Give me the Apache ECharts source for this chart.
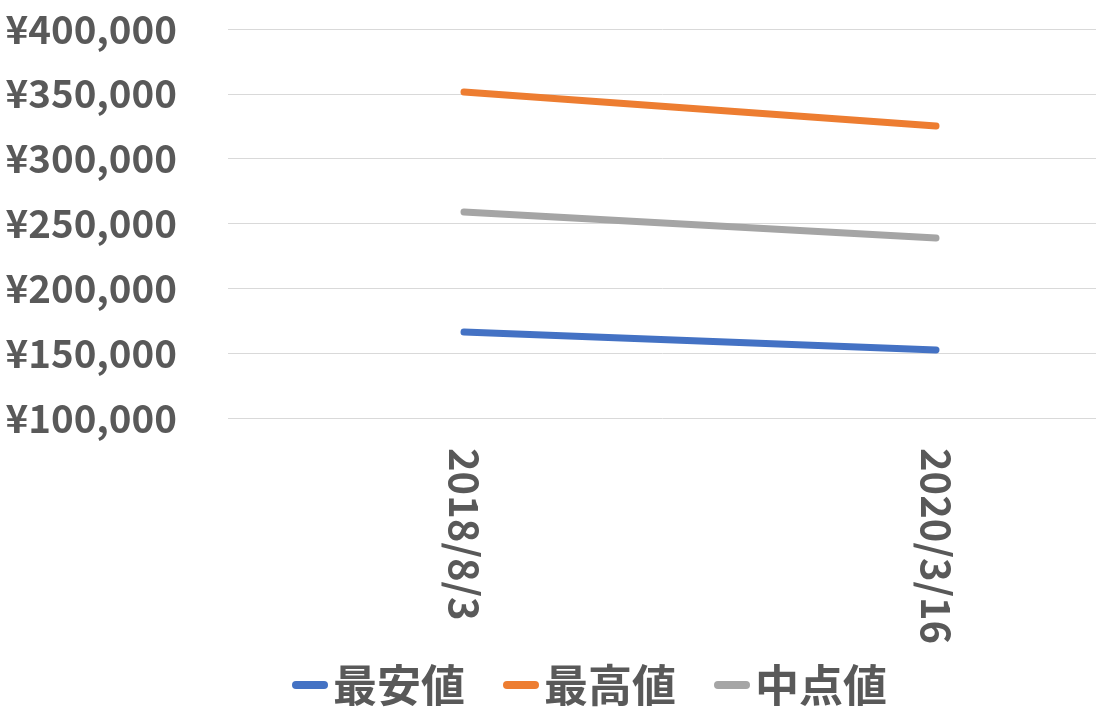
<!DOCTYPE html>
<html>
<head>
<meta charset="utf-8">
<script src="https://cdn.jsdelivr.net/npm/echarts@6/dist/echarts.min.js"></script>
<style>html,body{margin:0;padding:0;background:#fff}#c{width:1096px;height:720px}</style>
</head>
<body>
<div id="c"></div>
<script>
const categories = ['2018/8/3', '2020/3/16'];
const seriesNames = ['最安値', '最高値', '中点値'];
const lowest = [166300, 152500];
const highest = [351500, 325200];
const midpoint = [258900, 238800];
const yTicks = [100000, 150000, 200000, 250000, 300000, 350000, 400000];

const FONT = '"Noto Sans CJK JP", "Noto Sans", sans-serif';
const TXT = '#595959';
const chart = echarts.init(document.getElementById('c'), null, {renderer: 'canvas'});
const linePath = 'path://M4,0 L32,0 A4,4 0 0 1 32,8 L4,8 A4,4 0 0 1 4,0 Z';
function fmt(v){ return '¥' + String(v).replace(/\B(?=(\d{3})+(?!\d))/g, ','); }
chart.setOption({
  animation: false,
  color: ['#4472C4', '#ED7D31', '#A5A5A5'],
  grid: {left: 228, top: 29, right: -76, bottom: 302, outerBoundsMode: 'none'},
  legend: {
    data: seriesNames.map(n => ({name: n, icon: linePath})),
    left: 287, top: 655,
    itemWidth: 36, itemHeight: 8, itemGap: 38,
    textStyle: {fontFamily: FONT, fontWeight: 'bold', fontSize: 44, color: TXT, lineHeight: 50, padding: [0,0,0,0]}
  },
  xAxis: {
    type: 'category', data: categories, boundaryGap: true,
    axisLine: {show: false}, axisTick: {show: false},
    axisLabel: {rotate: -90, margin: 30, fontFamily: FONT, fontWeight: 'bold', fontSize: 40, color: TXT}
  },
  yAxis: {
    type: 'value', min: yTicks[0], max: yTicks[yTicks.length-1], interval: 50000,
    axisLine: {show: false}, axisTick: {show: false},
    splitLine: {lineStyle: {color: '#D9D9D9', width: 1}},
    axisLabel: {formatter: fmt, margin: 51, fontFamily: FONT, fontWeight: 'bold', fontSize: 38.5, color: TXT}
  },
  series: [
    {name: seriesNames[0], type: 'line', data: lowest, symbol: 'none', lineStyle: {width: 7, cap: 'round'}},
    {name: seriesNames[1], type: 'line', data: highest, symbol: 'none', lineStyle: {width: 7, cap: 'round'}},
    {name: seriesNames[2], type: 'line', data: midpoint, symbol: 'none', lineStyle: {width: 7, cap: 'round'}}
  ]
});
</script>
</body>
</html>
